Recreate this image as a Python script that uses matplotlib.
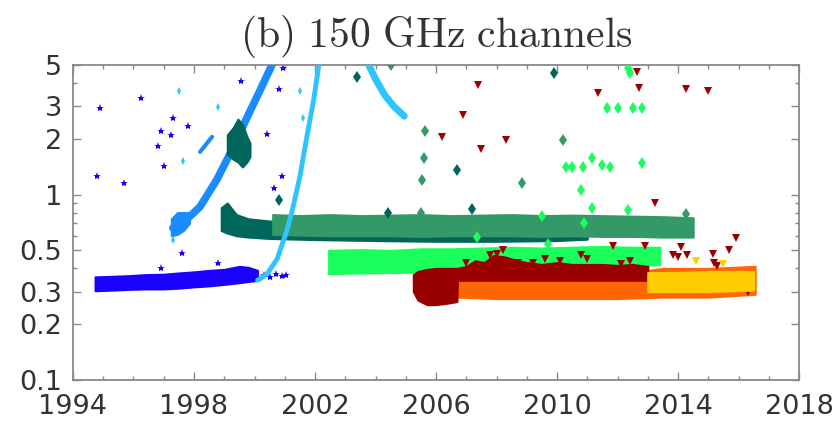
import matplotlib
matplotlib.use('Agg')
import matplotlib.pyplot as plt

# ---- data (year, value) ----
# dense bands: x positions with lower / upper edge of the cloud
blue_yr = [1994.73, 1995.2, 1995.8, 1996.4, 1997.0, 1997.5, 1998.0, 1998.5, 1999.0, 1999.5, 1999.8, 2000.1]
blue_lo = [0.303, 0.305, 0.308, 0.31, 0.31, 0.313, 0.318, 0.322, 0.328, 0.335, 0.34, 0.345]
blue_hi = [0.36, 0.362, 0.365, 0.37, 0.372, 0.378, 0.383, 0.39, 0.395, 0.41, 0.405, 0.39]
blue_pts_x = [1994.9, 1994.8, 1995.7, 1996.25, 1997.3, 1996.9, 1997.25, 1996.8, 1997.0, 1997.8,
              1997.6, 1999.55, 2000.8, 2000.95, 2000.4, 2000.9, 2000.65, 1998.8, 1996.9,
              2000.3, 2000.5, 2000.7, 2000.9, 2001.05]
blue_pts_y = [2.93, 1.26, 1.16, 3.32, 2.59, 2.2, 2.1, 1.83, 1.43, 2.34,
              0.484, 4.1, 3.7, 4.8, 2.12, 1.26, 1.09, 0.43, 0.40,
              0.37, 0.36, 0.375, 0.365, 0.37]

dodger_yr = [1997.3, 1997.7, 1998.2, 1998.75, 1999.3, 1999.75, 2000.2, 2000.65]
dodger_val = [0.66, 0.72, 0.86, 1.2, 1.8, 2.6, 3.7, 5.3]
dodger_blob_yr = [1997.25, 1997.45, 1997.65, 1997.85]
dodger_blob_lo = [0.60, 0.61, 0.64, 0.70]
dodger_blob_hi = [0.74, 0.80, 0.80, 0.80]
dodger_seg_yr = [1998.2, 1998.6]
dodger_seg_val = [1.7, 2.05]

sky_yr = [2000.1, 2000.4, 2000.75, 2001.07, 2001.27, 2001.5, 2001.73, 2001.95, 2002.15]
sky_val = [0.345, 0.37, 0.45, 0.64, 0.85, 1.25, 2.05, 3.2, 5.3]
sky2_yr = [2003.7, 2004.0, 2004.3, 2004.6, 2004.95]
sky2_val = [5.3, 4.2, 3.45, 3.0, 2.65]
sky_pts_x = [2001.5, 2001.6, 1998.8, 1997.5, 1997.65, 1997.3]
sky_pts_y = [3.6, 2.6, 2.97, 3.6, 1.51, 0.57]

teal_yr = [1998.9, 1999.1, 1999.4, 1999.8, 2000.5, 2002.0, 2004.0, 2006.0, 2008.0, 2010.0, 2011.0]
teal_lo = [0.64, 0.62, 0.60, 0.59, 0.58, 0.572, 0.565, 0.56, 0.56, 0.565, 0.575]
teal_hi = [0.85, 0.90, 0.78, 0.74, 0.72, 0.70, 0.70, 0.70, 0.70, 0.70, 0.68]
teal_blob_yr = [1999.1, 1999.3, 1999.45, 1999.6, 1999.75, 1999.85]
teal_blob_lo = [1.65, 1.55, 1.5, 1.41, 1.5, 1.6]
teal_blob_hi = [2.1, 2.3, 2.55, 2.4, 2.05, 1.9]
teal_pts_x = [2003.4, 2000.8, 2004.4, 2009.9, 2006.7, 2007.2]
teal_pts_y = [4.3, 0.94, 0.80, 4.5, 1.35, 0.84]

sea_yr = [2000.6, 2001.5, 2002.5, 2003.5, 2004.5, 2005.5, 2006.5, 2007.5, 2008.5, 2009.5,
          2010.5, 2011.5, 2012.5, 2013.5, 2014.5]
sea_lo = [0.61, 0.605, 0.60, 0.60, 0.60, 0.595, 0.60, 0.60, 0.60, 0.595, 0.60, 0.595, 0.595, 0.59, 0.59]
sea_hi = [0.78, 0.77, 0.78, 0.77, 0.775, 0.78, 0.77, 0.775, 0.78, 0.77, 0.775, 0.77, 0.765, 0.76, 0.75]
sea_pts_x = [2004.5, 2005.65, 2005.6, 2005.55, 2008.85, 2010.2, 2014.25, 2005.5]
sea_pts_y = [5.0, 2.2, 1.58, 1.2, 1.15, 1.97, 0.79, 0.80]

spring_yr = [2002.45, 2003.5, 2004.5, 2005.5, 2006.5, 2007.5, 2008.5, 2009.5, 2010.5, 2011.5, 2012.5, 2013.4]
spring_lo = [0.375, 0.378, 0.38, 0.382, 0.385, 0.39, 0.395, 0.40, 0.40, 0.41, 0.41, 0.42]
spring_hi = [0.50, 0.505, 0.50, 0.51, 0.51, 0.515, 0.52, 0.515, 0.52, 0.525, 0.52, 0.52]
spring_pts_x = [2012.35, 2012.4, 2011.65, 2012.0, 2012.5, 2012.8, 2010.3, 2010.5, 2010.85, 2011.15,
                2011.5, 2011.75, 2012.8, 2010.8, 2011.15, 2012.35, 2009.5, 2010.9, 2007.35, 2009.7]
spring_pts_y = [4.8, 4.5, 2.93, 2.93, 2.93, 2.93, 1.4, 1.4, 1.4, 1.58,
                1.45, 1.4, 1.48, 1.06, 0.85, 0.83, 0.77, 0.70, 0.59, 0.54]

red_yr = [2005.25, 2005.4, 2005.7, 2006.0, 2006.4, 2006.69, 2006.71, 2007.0, 2007.3, 2007.6,
          2007.9, 2008.3, 2008.7, 2009.0, 2009.5, 2010.0, 2010.5, 2011.0, 2011.5, 2012.0, 2012.5, 2013.0]
red_lo = [0.30, 0.27, 0.255, 0.255, 0.26, 0.265, 0.345, 0.345, 0.345, 0.345,
          0.345, 0.345, 0.345, 0.345, 0.345, 0.345, 0.345, 0.345, 0.345, 0.345, 0.345, 0.345]
red_hi = [0.37, 0.385, 0.395, 0.40, 0.40, 0.40, 0.40, 0.41, 0.44, 0.43,
          0.47, 0.46, 0.44, 0.43, 0.42, 0.43, 0.42, 0.42, 0.42, 0.415, 0.42, 0.41]
red_pts_x = [2007.4, 2006.9, 2006.2, 2007.5, 2008.3, 2011.35, 2012.65, 2012.7, 2014.25, 2015.0,
             2013.25, 2015.9, 2015.7, 2014.1, 2013.85, 2012.9, 2011.85, 2015.15, 2008.2, 2010.8,
             2010.1, 2009.2, 2007.0, 2008.7, 2008.0, 2012.1, 2015.2, 2016.3, 2014.0, 2014.3, 2015.3,
             2007.8, 2009.6, 2011.0, 2012.4]
red_pts_y = [3.9, 2.7, 2.04, 1.77, 1.98, 3.53, 4.6, 3.75, 3.7, 3.6,
             0.90, 0.58, 0.50, 0.52, 0.47, 0.53, 0.53, 0.48, 0.50, 0.47,
             0.44, 0.43, 0.43, 0.43, 0.48, 0.42, 0.43, 0.30, 0.46, 0.47, 0.41,
             0.47, 0.45, 0.45, 0.44]

orange_yr = [2006.7, 2008.0, 2010.0, 2012.0, 2013.5, 2015.0, 2016.55]
orange_lo = [0.28, 0.275, 0.275, 0.275, 0.28, 0.28, 0.29]
orange_hi = [0.36, 0.36, 0.36, 0.37, 0.40, 0.40, 0.41]

gold_yr = [2013.0, 2014.0, 2015.0, 2016.5]
gold_lo = [0.30, 0.30, 0.30, 0.305]
gold_hi = [0.38, 0.38, 0.385, 0.385]
gold_pts_x = [2014.6, 2015.5]
gold_pts_y = [0.44, 0.42]

yticks = [0.1, 0.2, 0.3, 0.5, 1, 2, 3, 5]
ytick_labels = ['0.1', '0.2', '0.3', '0.5', '1', '2', '3', '5']
xticks = [1994, 1998, 2002, 2006, 2010, 2014, 2018]

c_blue = '#1a00ff'
c_dodger = '#1a8cff'
c_sky = '#2ec4ff'
c_teal = '#00665c'
c_sea = '#339966'
c_spring = '#1aff5c'
c_red = '#990000'
c_orange = '#ff6600'
c_gold = '#ffcc00'


def band(ax, x, lo, hi, color, z):
    # thin edge in the same colour gives the rounded look of the point cloud
    ax.fill_between(x, lo, hi, facecolor=color, edgecolor=color, lw=1.5, zorder=z)


plt.rcParams['mathtext.fontset'] = 'cm'
fig = plt.figure(figsize=(8.38, 4.22), dpi=100)
ax = fig.add_axes([0.0871, 0.0995, 0.8664, 0.7465])

band(ax, blue_yr, blue_lo, blue_hi, c_blue, 2)
ax.plot(blue_pts_x, blue_pts_y, '*', color=c_blue, ms=6, mew=0, zorder=2)

band(ax, teal_yr, teal_lo, teal_hi, c_teal, 2)
band(ax, sea_yr, sea_lo, sea_hi, c_sea, 3)
ax.plot(sea_pts_x, sea_pts_y, 'd', color=c_sea, ms=6, mew=0, zorder=3)
band(ax, spring_yr, spring_lo, spring_hi, c_spring, 3)
ax.plot(spring_pts_x, spring_pts_y, 'd', color=c_spring, ms=6, mew=0, zorder=3)

band(ax, orange_yr, orange_lo, orange_hi, c_orange, 3)
band(ax, red_yr, red_lo, red_hi, c_red, 4)
ax.plot(red_pts_x, red_pts_y, 'v', color=c_red, ms=6, mew=0, zorder=4)
band(ax, gold_yr, gold_lo, gold_hi, c_gold, 5)
ax.plot(gold_pts_x, gold_pts_y, 'v', color=c_gold, ms=6, mew=0, zorder=5)

ax.plot(dodger_yr, dodger_val, color=c_dodger, lw=5.5, solid_capstyle='round', zorder=4)
band(ax, dodger_blob_yr, dodger_blob_lo, dodger_blob_hi, c_dodger, 4)
ax.plot(dodger_seg_yr, dodger_seg_val, color=c_dodger, lw=3, solid_capstyle='round', zorder=4)

band(ax, teal_blob_yr, teal_blob_lo, teal_blob_hi, c_teal, 5)
ax.plot(teal_pts_x, teal_pts_y, 'd', color=c_teal, ms=6, mew=0, zorder=5)

ax.plot(sky_yr, sky_val, color=c_sky, lw=3.5, solid_capstyle='round', zorder=6)
ax.plot(sky2_yr, sky2_val, color=c_sky, lw=5, solid_capstyle='round', zorder=6)
ax.plot(sky_pts_x, sky_pts_y, 'd', color=c_sky, ms=4, mew=0, zorder=6)

ax.set_yscale('log')
ax.set_xlim(1994, 2018)
ax.set_ylim(0.1, 5)
ax.set_yticks(yticks)
ax.set_yticklabels(ytick_labels)
ax.set_yticks([0.4, 0.6, 0.7, 0.8, 0.9, 4], minor=True)
ax.set_xticks(xticks)
ax.set_xticks(range(1994, 2019), minor=True)

for s in ax.spines.values():
    s.set_color('#888888')
    s.set_linewidth(1.3)
ax.tick_params(which='both', direction='in', top=True, right=True, color='#888888',
               labelsize=19.5, labelcolor='#333333')
ax.tick_params(which='major', length=6, width=1)
ax.tick_params(which='minor', length=3, width=1)
ax.tick_params(axis='x', pad=10)
ax.tick_params(axis='y', pad=8)

ax.set_title(r'$\mathrm{(b)\ 150\ GHz\ channels}$', fontsize=30, color='#333333', pad=13)

fig.savefig('out.png', dpi=100)
